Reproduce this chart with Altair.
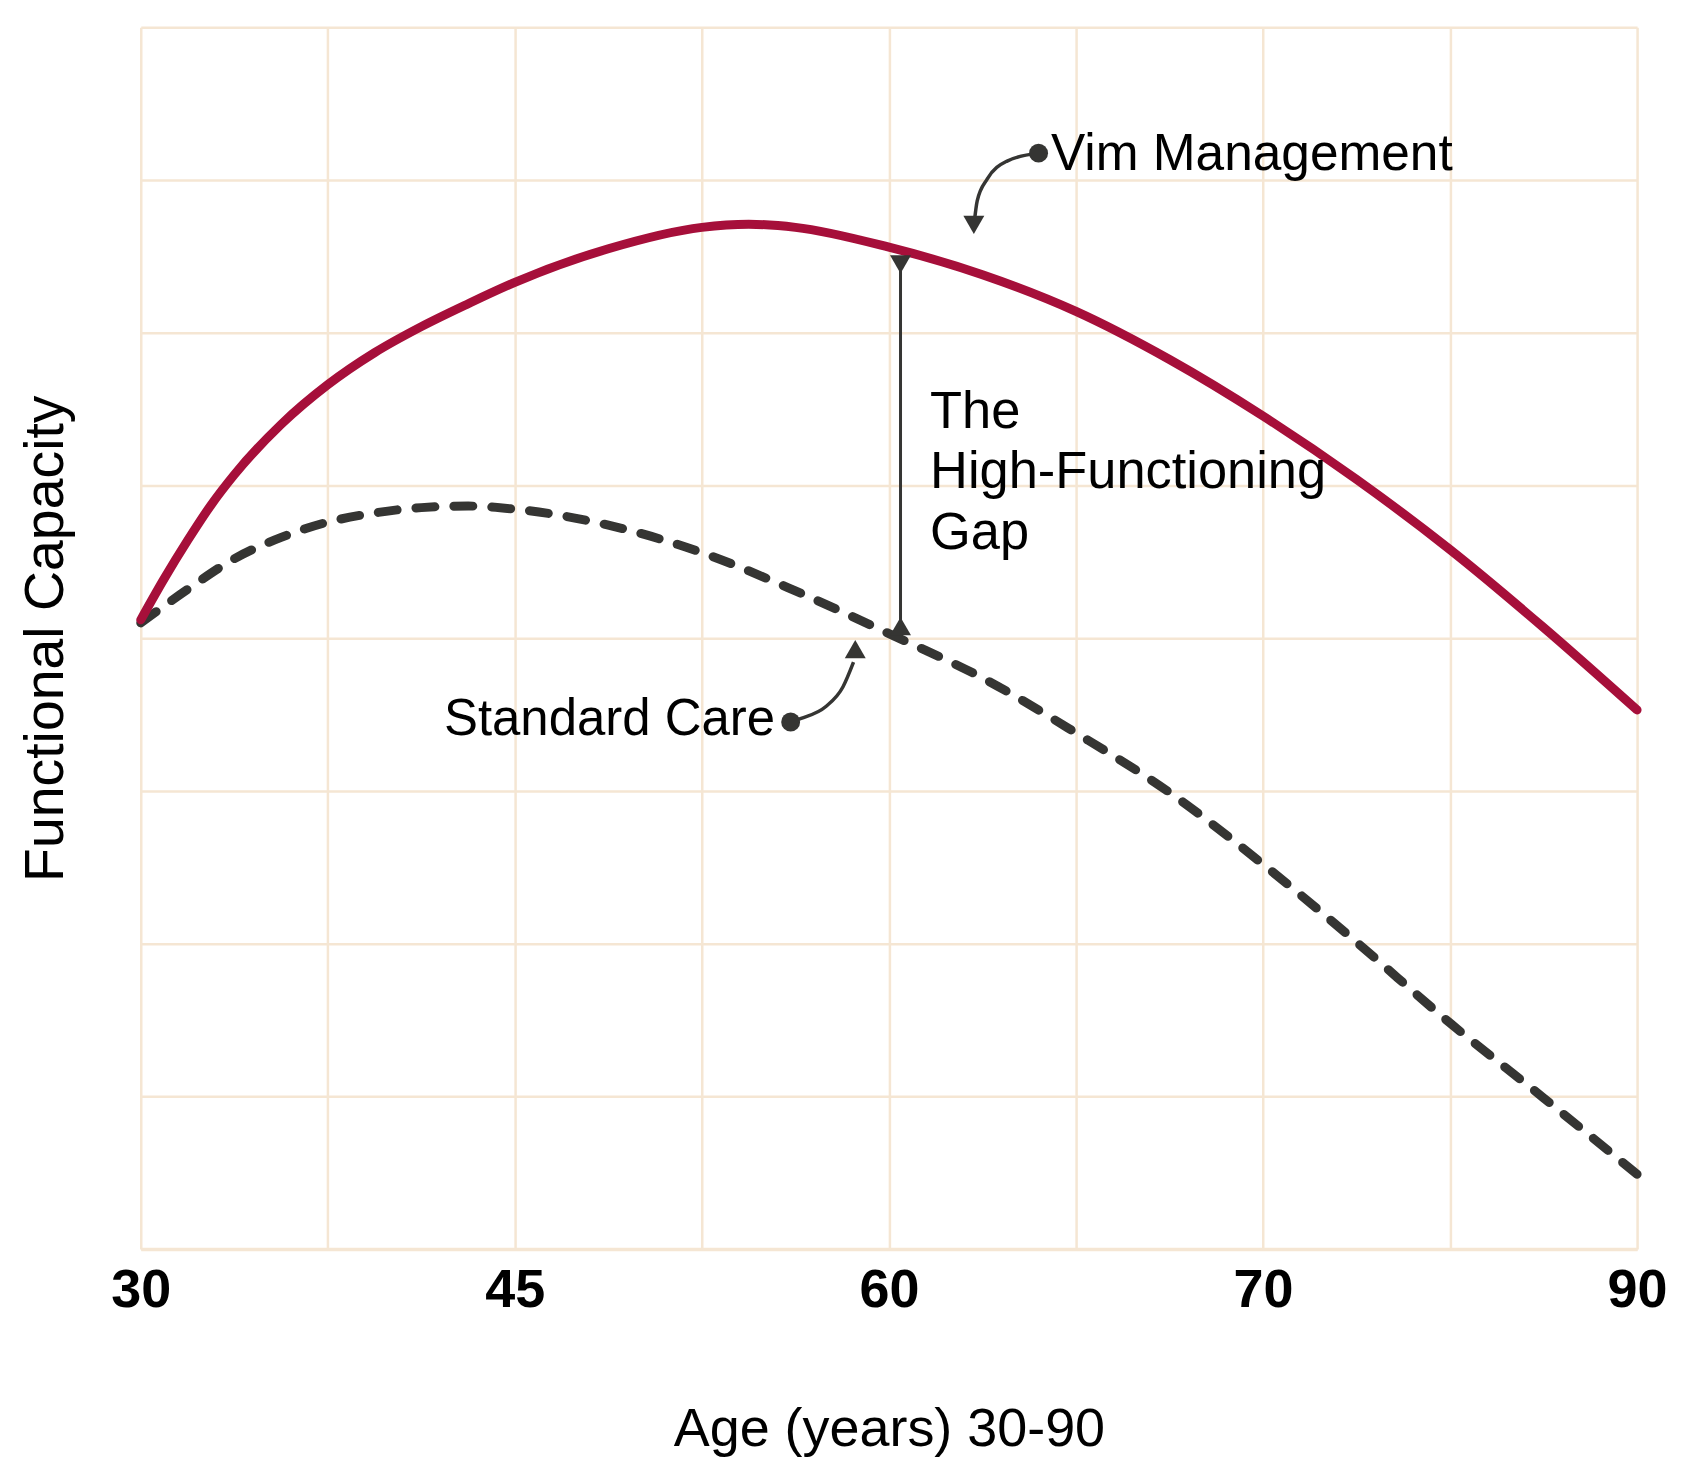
import altair as alt
import pandas as pd

# ---------------- data ----------------
AGE_TICKS = [30, 45, 60, 70, 90]
GRID_AGES = [30, 37.5, 45, 52.5, 60, 65, 70, 80, 90]
GRID_VALS = [0, 1, 2, 3, 4, 5, 6, 7, 8]

vim_age = [30, 30.94, 31.88, 32.81, 33.75, 35.63, 37.5, 39.38, 41.25, 43.13, 45, 48.75,
           52.5, 54.38, 56.25, 60, 62.5, 65, 67.5, 70, 75, 80, 85, 90]
vim_val = [4.12, 4.39, 4.64, 4.87, 5.07, 5.40, 5.66, 5.87, 6.04, 6.19, 6.33, 6.55,
           6.69, 6.71, 6.69, 6.56, 6.38, 6.14, 5.825, 5.455, 5.04, 4.58, 4.07, 3.53]

std_age = [30, 31.88, 33.75, 35.63, 37.5, 39.38, 41.25, 43.13, 45, 48.75, 52.5, 56.25,
           60, 62.5, 65, 67.5, 70, 75, 80, 85, 90]
std_val = [4.10, 4.32, 4.52, 4.66, 4.76, 4.82, 4.855, 4.865, 4.845, 4.74, 4.56, 4.31,
           4.03, 3.74, 3.38, 2.99, 2.52, 2.01, 1.48, 0.99, 0.49]

# annotations (data coordinates)
vim_label = ["Vim Management"]
vim_label_age = [64.33]
vim_label_val = [7.065]
vim_dot_age = [64.0]
vim_dot_val = [7.176]
vim_arc_age = [63.99, 63.16, 62.63, 62.36, 62.28]
vim_arc_val = [7.176, 7.124, 7.007, 6.863, 6.719]
vim_head_age = [62.27]
vim_head_val = [6.706]

std_label = ["Standard Care"]
std_label_age = [55.43]
std_label_val = [3.366]
std_dot_age = [56.06]
std_dot_val = [3.451]
std_arc_age = [56.06, 56.48, 57.46, 58.16, 58.58]
std_arc_val = [3.451, 3.475, 3.551, 3.682, 3.843]
std_head_age = [58.65]
std_head_val = [3.928]

gap_label = ["The\nHigh-Functioning\nGap"]
gap_label_age = [61.1]
gap_label_val = [5.379]
gap_age = [60.31]
gap_top = [6.503]
gap_bottom = [4.02]
gap_top_head = [6.448]
gap_bottom_head = [4.078]

# ---------------- styling ----------------
W, H = 1499, 1224
FONT = "Liberation Sans"
GRID = "#F5E6D3"
RED = "#A60F3A"
DARK = "#353533"

xscale = alt.Scale(domain=AGE_TICKS, range=[0, W / 4, W / 2, 3 * W / 4, W], nice=False)
yscale = alt.Scale(domain=[0, 8], nice=False, zero=False)

label_expr = " || ".join(f"datum.value == {v}" for v in AGE_TICKS)
xaxis = alt.Axis(
    values=GRID_AGES, title="Age (years) 30-90",
    labelExpr=f"({label_expr}) ? datum.label : ''",
    labelOverlap=False, labelFlush=False,
    ticks=False, tickSize=0, labelPadding=15,
    labelFont=FONT, labelFontSize=54, labelFontWeight="bold", labelColor="#000000",
    titleFont=FONT, titleFontSize=54, titleFontWeight="normal", titleColor="#000000",
    titleY=154, titleBaseline="top",
    grid=True, gridColor=GRID, gridWidth=2.5,
    domain=True, domainColor=GRID, domainWidth=3.5,
)
yaxis = alt.Axis(
    values=GRID_VALS, title="Functional Capacity", labels=False, ticks=False, tickSize=0,
    domain=False, grid=True, gridColor=GRID, gridWidth=2.5,
    titleFont=FONT, titleFontSize=55.5, titleFontWeight="normal", titleColor="#000000",
    titleX=-78, titleY=H / 2, titleAngle=270, titleBaseline="alphabetic", titleAlign="center",
)


def X(f="age"):
    return alt.X(f"{f}:Q", scale=xscale, axis=xaxis)


def Y(f="val"):
    return alt.Y(f"{f}:Q", scale=yscale, axis=yaxis)


def df(**cols):
    return pd.DataFrame(cols)


std_line = alt.Chart(df(age=std_age, val=std_val)).mark_line(
    color=DARK, strokeWidth=9, strokeDash=[19, 19], strokeCap="round", interpolate="monotone"
).encode(x=X(), y=Y())

vim_line = alt.Chart(df(age=vim_age, val=vim_val)).mark_line(
    color=RED, strokeWidth=9, strokeCap="round", interpolate="monotone"
).encode(x=X(), y=Y())

# gap arrow
gap_rule = alt.Chart(df(age=gap_age, val=gap_top, val2=gap_bottom)).mark_rule(
    color=DARK, strokeWidth=3
).encode(x=X(), y=Y(), y2=alt.Y2("val2:Q"))
gap_head_top = alt.Chart(df(age=gap_age, val=gap_top_head)).mark_point(
    shape="triangle-down", size=441, filled=True, color=DARK, opacity=1
).encode(x=X(), y=Y())
gap_head_bot = alt.Chart(df(age=gap_age, val=gap_bottom_head)).mark_point(
    shape="triangle-up", size=441, filled=True, color=DARK, opacity=1
).encode(x=X(), y=Y())
gap_text = alt.Chart(df(age=gap_label_age, val=gap_label_val, label=gap_label)).mark_text(
    font=FONT, fontSize=52.5, color="#000000", align="left", baseline="alphabetic",
    lineBreak="\n", lineHeight=61
).encode(x=X(), y=Y(), text="label:N")

# Vim Management callout
vim_arc = alt.Chart(df(age=vim_arc_age, val=vim_arc_val)).mark_line(
    color=DARK, strokeWidth=3.5, interpolate="monotone"
).encode(x=X(), y=Y())
vim_head = alt.Chart(df(age=vim_head_age, val=vim_head_val)).mark_point(
    shape="triangle-down", size=441, filled=True, color=DARK, opacity=1
).encode(x=X(), y=Y())
vim_dot = alt.Chart(df(age=vim_dot_age, val=vim_dot_val)).mark_circle(
    size=360, color=DARK, opacity=1
).encode(x=X(), y=Y())
vim_text = alt.Chart(df(age=vim_label_age, val=vim_label_val, label=vim_label)).mark_text(
    font=FONT, fontSize=51.5, color="#000000", align="left", baseline="alphabetic"
).encode(x=X(), y=Y(), text="label:N")

# Standard Care callout
std_arc = alt.Chart(df(age=std_arc_age, val=std_arc_val)).mark_line(
    color=DARK, strokeWidth=3.5, interpolate="monotone"
).encode(x=X(), y=Y())
std_head = alt.Chart(df(age=std_head_age, val=std_head_val)).mark_point(
    shape="triangle-up", size=441, filled=True, color=DARK, opacity=1
).encode(x=X(), y=Y())
std_dot = alt.Chart(df(age=std_dot_age, val=std_dot_val)).mark_circle(
    size=360, color=DARK, opacity=1
).encode(x=X(), y=Y())
std_text = alt.Chart(df(age=std_label_age, val=std_label_val, label=std_label)).mark_text(
    font=FONT, fontSize=51, color="#000000", align="right", baseline="alphabetic"
).encode(x=X(), y=Y(), text="label:N")

chart = alt.layer(
    std_line, vim_line,
    gap_rule, gap_head_top, gap_head_bot, gap_text,
    vim_arc, vim_head, vim_dot, vim_text,
    std_arc, std_head, std_dot, std_text,
).properties(
    width=W, height=H,
    padding={"left": 133, "top": 18, "right": 45, "bottom": 230},
    autosize=alt.AutoSizeParams(type="none"),
    background="#ffffff",
).configure_view(stroke=None)

chart.save("out.html", embed_options={"renderer": "svg", "actions": False})
